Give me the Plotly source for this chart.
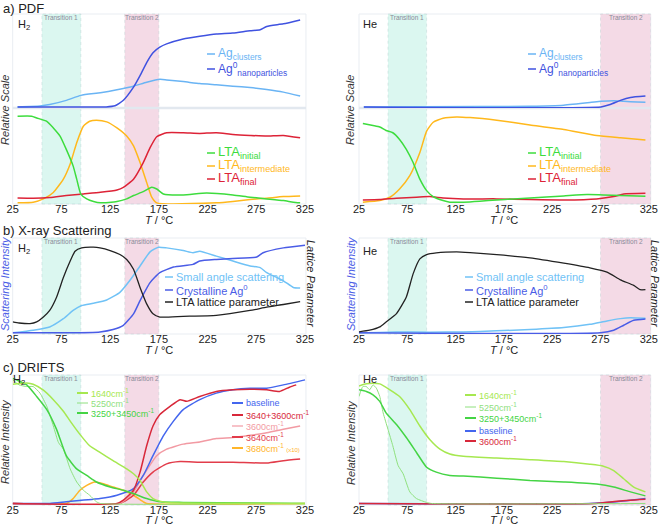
import plotly.graph_objects as go

W, H = 661, 525
FONT = "Liberation Sans, Arial, sans-serif"

# ---------------- tick labels / bands ----------------
tick_vals = [25, 75, 125, 175, 225, 275, 325]
tick_text = ["25", "75", "125", "175", "225", "275", "325"]
trans1_h2 = [55, 95]
trans2_h2 = [140, 175]
trans1_he = [55, 95]
trans2_he = [275, 327]

# ---------------- a) PDF, H2 ----------------
pdf_h2_agcl_x = [30, 53, 63, 80, 95, 115, 132, 149, 162.5, 176, 183, 200, 217, 234, 251, 268.6, 285.7, 302.8, 320]
pdf_h2_agcl_y = [0, 0.01, 0.025, 0.07, 0.124, 0.152, 0.184, 0.223, 0.265, 0.297, 0.29, 0.272, 0.251, 0.237, 0.223, 0.208, 0.187, 0.159, 0.117]
pdf_h2_ag0_x = [30, 121, 130, 138.6, 149, 155.7, 162.5, 169, 176, 183, 200, 217, 234, 251, 268.6, 279, 285.7, 302.8, 320]
pdf_h2_ag0_y = [0, 0, 0.012, 0.071, 0.212, 0.336, 0.477, 0.583, 0.643, 0.678, 0.731, 0.760, 0.784, 0.795, 0.820, 0.830, 0.866, 0.894, 0.936]
pdf_h2_init_x = [30, 44.5, 49.6, 60, 66.7, 73.6, 80, 87, 90.7, 95, 101, 108, 115, 132, 142, 149, 159, 167.7, 172.8, 179.6, 200, 224, 251, 268.6, 285.7, 302.8, 313, 320]
pdf_h2_init_y = [0.913, 0.913, 0.895, 0.86, 0.79, 0.704, 0.564, 0.39, 0.25, 0.09, 0.042, 0.014, 0.0, 0.014, 0.042, 0.077, 0.118, 0.164, 0.146, 0.094, 0.084, 0.105, 0.084, 0.06, 0.042, 0.024, 0.007, 0.0]
pdf_h2_inter_x = [30, 46, 56.5, 66.7, 77, 84, 90.7, 97.5, 104, 111, 121.5, 132, 142, 149, 155.7, 162.5, 167.7, 172.8, 234, 251, 268.6, 285.7, 302.8, 320]
pdf_h2_inter_y = [0, 0.007, 0.042, 0.11, 0.25, 0.41, 0.634, 0.808, 0.86, 0.871, 0.854, 0.79, 0.704, 0.6, 0.425, 0.216, 0.06, 0, 0, 0.014, 0.035, 0.049, 0.066, 0.073]
pdf_h2_final_x = [30, 46, 63, 80, 97.5, 115, 132, 138.6, 149, 159, 166, 172.8, 183, 200, 217, 234, 251, 268.6, 285.7, 302.8, 320]
pdf_h2_final_y = [0.052, 0.049, 0.056, 0.077, 0.094, 0.111, 0.136, 0.164, 0.25, 0.425, 0.582, 0.697, 0.739, 0.739, 0.732, 0.739, 0.721, 0.711, 0.704, 0.711, 0.686]

# ---------------- a) PDF, He ----------------
pdf_he_agcl_x = [30, 150, 202, 236.8, 264, 275.5, 288.7, 299, 313, 321.5]
pdf_he_agcl_y = [0, 0.003, 0.007, 0.018, 0.046, 0.06, 0.067, 0.06, 0.053, 0.049]
pdf_he_ag0_x = [30, 275.5, 285, 295.6, 306, 321.5]
pdf_he_ag0_y = [0, 0, 0.025, 0.07, 0.102, 0.117]
pdf_he_init_x = [29, 39.5, 46.5, 53, 60, 67, 74, 81, 88, 95, 101.8, 112, 119, 133, 150, 167.6, 185, 202, 219, 237, 261, 278, 295.6, 321.5]
pdf_he_init_y = [0.836, 0.815, 0.8, 0.763, 0.739, 0.669, 0.564, 0.425, 0.25, 0.129, 0.066, 0.024, 0.007, 0.007, 0.017, 0.031, 0.042, 0.052, 0.063, 0.073, 0.087, 0.084, 0.077, 0.07]
pdf_he_inter_x = [29, 46.5, 57, 67, 77.6, 88, 95, 101.8, 112, 126, 140, 167.6, 202, 237, 271, 295.6, 321.5]
pdf_he_inter_y = [0.007, 0.024, 0.059, 0.146, 0.286, 0.53, 0.756, 0.85, 0.892, 0.906, 0.899, 0.871, 0.822, 0.774, 0.711, 0.686, 0.662]
pdf_he_final_x = [29, 46.5, 63.7, 84.5, 98, 112, 133, 167.6, 202, 237, 271, 288.7, 299, 321.5]
pdf_he_final_y = [0.031, 0.035, 0.049, 0.059, 0.066, 0.052, 0.042, 0.042, 0.035, 0.031, 0.042, 0.066, 0.094, 0.101]

# ---------------- b) X-ray scattering, H2 ----------------
xr_h2_lat_x = [25, 31.5, 42.8, 49.6, 56.5, 63, 70, 77, 84, 89, 95.8, 107.8, 114.6, 125, 135, 142, 149, 155.7, 162.5, 169, 176, 200, 234, 268.6, 285.7, 302.8, 320]
xr_h2_lat_y = [0.115, 0.104, 0.097, 0.115, 0.167, 0.236, 0.375, 0.583, 0.757, 0.861, 0.896, 0.903, 0.896, 0.868, 0.826, 0.774, 0.67, 0.479, 0.306, 0.201, 0.167, 0.174, 0.184, 0.236, 0.271, 0.299, 0.33]
xr_h2_saxs_x = [25, 46, 63, 77, 87, 95.8, 107.8, 121.5, 135, 145, 155.7, 166, 174.5, 183, 200, 210, 217, 234, 251, 268.6, 279, 285.7, 302.8, 313, 320]
xr_h2_saxs_y = [0, 0.028, 0.0625, 0.149, 0.236, 0.288, 0.3125, 0.347, 0.427, 0.549, 0.705, 0.854, 0.903, 0.896, 0.868, 0.844, 0.861, 0.809, 0.757, 0.705, 0.6875, 0.635, 0.549, 0.479, 0.472]
xr_h2_cry_x = [25, 80, 114.6, 128, 138.6, 149, 155.7, 166, 176, 190, 210, 217, 234, 251, 275.5, 282, 302.8, 325]
xr_h2_cry_y = [0, 0, 0.01, 0.035, 0.08, 0.2, 0.34, 0.53, 0.635, 0.694, 0.722, 0.757, 0.774, 0.785, 0.8, 0.844, 0.896, 0.924]

# ---------------- b) X-ray scattering, He ----------------
xr_he_lat_x = [25, 36, 46.5, 53, 63.8, 74, 81, 88, 95, 105, 126, 140, 167.6, 202, 237, 264, 281.7, 295.6, 309.4, 316, 321.5]
xr_he_lat_y = [0.01, 0.028, 0.063, 0.115, 0.203, 0.378, 0.622, 0.78, 0.825, 0.843, 0.853, 0.846, 0.825, 0.79, 0.734, 0.685, 0.64, 0.559, 0.5, 0.455, 0.455]
xr_he_saxs_x = [25, 63.8, 98, 133, 167.6, 202, 237, 264, 281.7, 295.6, 306, 321.5]
xr_he_saxs_y = [0, 0.01, 0.007, 0.01, 0.021, 0.035, 0.056, 0.09, 0.126, 0.15, 0.16, 0.154]
xr_he_cry_x = [25, 275, 288.7, 299, 309.4, 321.5]
xr_he_cry_y = [0, 0, 0.028, 0.08, 0.132, 0.146]

# ---------------- c) DRIFTS, H2 ----------------
dr_h2_1640_x = [25, 31.5, 39.4, 46, 56.5, 66.7, 77, 84, 94, 104, 114.6, 128, 142, 149, 155.7, 162.5, 169, 176, 183, 325]
dr_h2_1640_y = [0.928, 0.933, 0.938, 0.928, 0.882, 0.808, 0.718, 0.641, 0.538, 0.449, 0.397, 0.333, 0.269, 0.231, 0.179, 0.09, 0.038, 0.018, 0.008, 0.0]
dr_h2_5250_x = [25, 31.5, 39.4, 46, 53, 60, 66.7, 72, 77, 84, 90.7, 97.5, 104, 111, 115, 325]
dr_h2_5250_y = [0.962, 0.923, 0.91, 0.91, 0.859, 0.756, 0.603, 0.474, 0.423, 0.269, 0.167, 0.103, 0.064, 0.013, 0.0, 0.0]
dr_h2_3250_x = [25, 29, 39.4, 49.6, 60, 70, 80, 90.7, 101, 111, 125, 138.6, 149, 162.5, 176, 200, 325]
dr_h2_3250_y = [0.974, 0.962, 0.923, 0.833, 0.731, 0.577, 0.372, 0.269, 0.218, 0.167, 0.128, 0.103, 0.077, 0.038, 0.013, 0.008, 0.0]
dr_h2_base_x = [25, 63, 80, 114.6, 132, 149, 159, 169, 179.6, 190, 200, 217, 234, 251, 268.6, 285.7, 302.8, 325]
dr_h2_base_y = [0, 0, 0.013, 0.038, 0.064, 0.115, 0.218, 0.372, 0.526, 0.641, 0.731, 0.808, 0.859, 0.885, 0.897, 0.897, 0.923, 0.962]
dr_h2_3640p_x = [25, 132, 138.6, 149, 155.7, 162.5, 169, 176, 186.5, 196.7, 203.6, 217, 234, 251, 268.6, 285.7, 299, 309, 316]
dr_h2_3640p_y = [0, 0, 0.026, 0.103, 0.244, 0.449, 0.603, 0.692, 0.756, 0.808, 0.795, 0.833, 0.872, 0.885, 0.89, 0.885, 0.872, 0.905, 0.923]
dr_h2_3600_x = [25, 135, 149, 159, 172.8, 183, 200, 217, 234, 251, 268.6, 285.7, 302.8, 320]
dr_h2_3600_y = [0, 0, 0.09, 0.218, 0.372, 0.423, 0.462, 0.479, 0.505, 0.513, 0.531, 0.551, 0.577, 0.603]
dr_h2_3640_x = [25, 135, 149, 159, 169, 183, 196.7, 217, 251, 285.7, 302.8, 320]
dr_h2_3640_y = [0, 0, 0.064, 0.167, 0.244, 0.308, 0.326, 0.321, 0.321, 0.315, 0.333, 0.346]
dr_h2_3680_x = [25, 80, 87, 94, 101, 109.5, 118, 128, 138.6, 149, 159, 162.5, 325]
dr_h2_3680_y = [0, 0, 0.038, 0.103, 0.141, 0.167, 0.154, 0.128, 0.103, 0.064, 0.013, 0, 0]

# ---------------- c) DRIFTS, He ----------------
dr_he_1640_x = [25, 32.6, 39.5, 46.5, 57, 67, 77.6, 88, 98, 108.8, 119, 133, 167.6, 202, 237, 264, 278, 288.7, 299, 309.4, 321.5]
dr_he_1640_y = [0.915, 0.931, 0.936, 0.931, 0.885, 0.833, 0.731, 0.603, 0.5, 0.423, 0.385, 0.367, 0.354, 0.341, 0.326, 0.305, 0.29, 0.256, 0.192, 0.128, 0.09]
dr_he_5250_x = [25, 29, 32.6, 36, 39.5, 43, 46.5, 50, 55, 60, 65.5, 70.7, 77.6, 84.5, 95, 100, 321.5]
dr_he_5250_y = [0.833, 0.91, 0.91, 0.885, 0.923, 0.897, 0.833, 0.705, 0.577, 0.449, 0.295, 0.231, 0.09, 0.038, 0.008, 0, 0]
dr_he_3250_x = [25, 32.6, 39.5, 46.5, 53, 63.8, 74, 84.5, 95, 105, 119, 133, 167.6, 202, 237, 271, 288.7, 306, 321.5]
dr_he_3250_y = [0.885, 0.872, 0.846, 0.795, 0.705, 0.615, 0.513, 0.397, 0.282, 0.244, 0.218, 0.213, 0.197, 0.179, 0.167, 0.151, 0.128, 0.09, 0.059]
dr_he_base_x = [25, 264, 292, 321.5]
dr_he_base_y = [0, 0, 0.013, 0.038]
dr_he_3600_x = [25, 270, 292, 321.5]
dr_he_3600_y = [0, 0, 0.018, 0.033]

# ---------------- colours ----------------
C_AGCL = "#6ab4f4"
C_AG0 = "#3f52e0"
C_INIT = "#3ddc3d"
C_INTER = "#ffb81c"
C_FINAL = "#dd2337"
C_SAXS = "#70c2f6"
C_CRY = "#4a5ce6"
C_LAT = "#222222"
C_1640 = "#a6e850"
C_5250 = "#8fe07e"
C_3250 = "#44d444"
C_BASE = "#4466ee"
C_3640P = "#d8283a"
C_3600 = "#f29aa3"
C_3640 = "#e23c4a"
C_3680 = "#ffb52a"

fig = go.Figure()


def add(xs, ys, color, xa, ya, width=1.5):
    fig.add_trace(go.Scatter(x=xs, y=ys, mode="lines", xaxis=xa, yaxis=ya,
                             line=dict(color=color, width=width, shape="spline", smoothing=0.5),
                             showlegend=False, hoverinfo="skip"))


# PDF H2
add(pdf_h2_agcl_x, pdf_h2_agcl_y, C_AGCL, "x", "y2")
add(pdf_h2_ag0_x, pdf_h2_ag0_y, C_AG0, "x", "y2")
add(pdf_h2_inter_x, pdf_h2_inter_y, C_INTER, "x", "y")
add(pdf_h2_final_x, pdf_h2_final_y, C_FINAL, "x", "y")
add(pdf_h2_init_x, pdf_h2_init_y, C_INIT, "x", "y")
# PDF He
add(pdf_he_agcl_x, pdf_he_agcl_y, C_AGCL, "x2", "y4")
add(pdf_he_ag0_x, pdf_he_ag0_y, C_AG0, "x2", "y4")
add(pdf_he_inter_x, pdf_he_inter_y, C_INTER, "x2", "y3")
add(pdf_he_final_x, pdf_he_final_y, C_FINAL, "x2", "y3")
add(pdf_he_init_x, pdf_he_init_y, C_INIT, "x2", "y3")
# X-ray H2
add(xr_h2_saxs_x, xr_h2_saxs_y, C_SAXS, "x3", "y5")
add(xr_h2_cry_x, xr_h2_cry_y, C_CRY, "x3", "y5")
add(xr_h2_lat_x, xr_h2_lat_y, C_LAT, "x3", "y5", 1.3)
# X-ray He
add(xr_he_saxs_x, xr_he_saxs_y, C_SAXS, "x4", "y6")
add(xr_he_cry_x, xr_he_cry_y, C_CRY, "x4", "y6")
add(xr_he_lat_x, xr_he_lat_y, C_LAT, "x4", "y6", 1.3)
# DRIFTS H2
add(dr_h2_3680_x, dr_h2_3680_y, C_3680, "x5", "y7")
add(dr_h2_3640_x, dr_h2_3640_y, C_3640, "x5", "y7")
add(dr_h2_3600_x, dr_h2_3600_y, C_3600, "x5", "y7")
add(dr_h2_base_x, dr_h2_base_y, C_BASE, "x5", "y7")
add(dr_h2_3640p_x, dr_h2_3640p_y, C_3640P, "x5", "y7")
add(dr_h2_5250_x, dr_h2_5250_y, C_5250, "x5", "y7", 1.0)
add(dr_h2_3250_x, dr_h2_3250_y, C_3250, "x5", "y7")
add(dr_h2_1640_x, dr_h2_1640_y, C_1640, "x5", "y7")
# DRIFTS He
add(dr_he_base_x, dr_he_base_y, C_BASE, "x6", "y8")
add(dr_he_3600_x, dr_he_3600_y, C_3640P, "x6", "y8")
add(dr_he_5250_x, dr_he_5250_y, C_5250, "x6", "y8", 1.0)
add(dr_he_3250_x, dr_he_3250_y, C_3250, "x6", "y8")
add(dr_he_1640_x, dr_he_1640_y, C_1640, "x6", "y8")

# ---------------- layout geometry (pixels) ----------------
LX = (12.7, 305.0)     # left panels: px of x=25 and x=325
RX = (359.0, 648.8)    # right panels
def dom_x(px, rng):
    a, b = px
    scale = (b - a) / 300.0
    return [(a + (rng[0] - 25) * scale) / W, (a + (rng[1] - 25) * scale) / W]

def py(v):
    return 1 - v / H

rowA = (14, 108, 204)
rowB = (238, 334)
rowC = (375, 505)

L_RANGE = [25, 326]
R_RANGE = [25, 327]
ldom = dom_x(LX, L_RANGE)
rdom = dom_x(RX, R_RANGE)

xcommon = dict(showgrid=False, zeroline=False, showline=False, ticks="", ticklen=0,
               automargin=False, ticklabelstandoff=-3,
               tickvals=tick_vals, ticktext=tick_text,
               tickfont=dict(family=FONT, size=11, color="#222222"))
ycommon = dict(showgrid=False, zeroline=False, showline=False, showticklabels=False,
               automargin=False, ticks="", range=[-0.012, 1.0])

layout = dict(
    width=W, height=H, margin=dict(l=0, r=0, t=0, b=0, pad=0, autoexpand=False),
    paper_bgcolor="white", plot_bgcolor="white", showlegend=False,
    font=dict(family=FONT),
    xaxis=dict(xcommon, domain=ldom, range=L_RANGE, anchor="y"),
    xaxis2=dict(xcommon, domain=rdom, range=R_RANGE, anchor="y3"),
    xaxis3=dict(xcommon, domain=ldom, range=L_RANGE, anchor="y5"),
    xaxis4=dict(xcommon, domain=rdom, range=R_RANGE, anchor="y6"),
    xaxis5=dict(xcommon, domain=ldom, range=L_RANGE, anchor="y7"),
    xaxis6=dict(xcommon, domain=rdom, range=R_RANGE, anchor="y8"),
    yaxis=dict(ycommon, domain=[py(rowA[2]), py(rowA[1])], anchor="x"),
    yaxis2=dict(ycommon, domain=[py(rowA[1]), py(rowA[0])], anchor="x"),
    yaxis3=dict(ycommon, domain=[py(rowA[2]), py(rowA[1])], anchor="x2"),
    yaxis4=dict(ycommon, domain=[py(rowA[1]), py(rowA[0])], anchor="x2"),
    yaxis5=dict(ycommon, domain=[py(rowB[1]), py(rowB[0])], anchor="x3"),
    yaxis6=dict(ycommon, domain=[py(rowB[1]), py(rowB[0])], anchor="x4"),
    yaxis7=dict(ycommon, domain=[py(rowC[1]), py(rowC[0])], anchor="x5"),
    yaxis8=dict(ycommon, domain=[py(rowC[1]), py(rowC[0])], anchor="x6"),
)
fig.update_layout(**layout)

shapes = []
annots = []

BAND1 = "rgba(200,243,232,0.65)"
BAND2 = "rgba(240,205,222,0.75)"

def band(xref, rng, top, bottom, color):
    shapes.append(dict(type="rect", xref=xref, yref="paper", x0=rng[0], x1=rng[1],
                       y0=py(bottom), y1=py(top), fillcolor=color, layer="below",
                       line=dict(width=0.6, color="rgba(170,200,200,0.6)", dash="dot")))

def tlabel(xref, rng, ypx, text):
    annots.append(dict(x=(rng[0] + rng[1]) / 2, xref=xref, y=py(ypx), yref="paper",
                       text=text, showarrow=False, font=dict(size=6.5, color="#8a8a98", family=FONT),
                       xanchor="center", yanchor="middle"))

def frame(xdom, top, bottom):
    shapes.append(dict(type="rect", xref="paper", yref="paper", x0=xdom[0], x1=xdom[1],
                       y0=py(bottom), y1=py(top), line=dict(width=1, color="#e9edf2"), layer="below"))

for (xr, t1, t2, xd) in [("x", trans1_h2, trans2_h2, ldom), ("x2", trans1_he, trans2_he, rdom)]:
    frame(xd, rowA[0], rowA[2])
    band(xr, t1, rowA[0], rowA[2], BAND1)
    band(xr, t2, rowA[0], rowA[2], BAND2)
    tlabel(xr, t1, 18, "Transition 1")
    tlabel(xr, t2, 18, "Transition 2")
    shapes.append(dict(type="line", xref="paper", yref="paper", x0=xd[0], x1=xd[1],
                       y0=py(rowA[1]), y1=py(rowA[1]), line=dict(width=2.5, color="#e2e8ef"), layer="below"))
for (xr, t1, t2, xd) in [("x3", trans1_h2, trans2_h2, ldom), ("x4", trans1_he, trans2_he, rdom)]:
    frame(xd, rowB[0], rowB[1])
    band(xr, t1, rowB[0], rowB[1], BAND1)
    band(xr, t2, rowB[0], rowB[1], BAND2)
    tlabel(xr, t1, 241, "Transition 1")
    tlabel(xr, t2, 241, "Transition 2")
for (xr, t1, t2, xd) in [("x5", trans1_h2, trans2_h2, ldom), ("x6", trans1_he, trans2_he, rdom)]:
    frame(xd, rowC[0], rowC[1])
    band(xr, t1, rowC[0], rowC[1], BAND1)
    band(xr, t2, rowC[0], rowC[1], BAND2)
    tlabel(xr, t1, 378, "Transition 1")
    tlabel(xr, t2, 378, "Transition 2")


def text(xpx, ypx, t, size=11, color="#222222", angle=0, xanchor="left", italic=False):
    if italic:
        t = "<i>" + t + "</i>"
    annots.append(dict(x=xpx / W, y=py(ypx), xref="paper", yref="paper", text=t, showarrow=False,
                       textangle=angle, xanchor=xanchor, yanchor="middle",
                       font=dict(size=size, color=color, family=FONT)))


def leg(xpx, ypx, color, label, size, seg=8, lw=1.5):
    shapes.append(dict(type="line", xref="paper", yref="paper", x0=xpx / W, x1=(xpx + seg) / W,
                       y0=py(ypx), y1=py(ypx), line=dict(color=color, width=lw)))
    text(xpx + seg + 1, ypx, label, size=size, color=color)

# section titles
text(1, 8, "a) PDF", size=13)
text(1, 231, "b) X-ray Scattering", size=13)
text(1, 367, "c) DRIFTS", size=13)

# gas labels
text(16, 25, "H<sub>2</sub>", size=11)
text(361, 24, "He", size=11)
text(16, 249, "H<sub>2</sub>", size=11)
text(361, 251, "He", size=11)
text(11, 380, "H<sub>2</sub>", size=11)
text(361, 379, "He", size=11)

# x axis titles
for cx in [(LX[0] + LX[1]) / 2, (RX[0] + RX[1]) / 2]:
    text(cx, 220, "<i>T</i> / °C", size=11, xanchor="center")
    text(cx, 350, "<i>T</i> / °C", size=11, xanchor="center")
    text(cx, 520, "<i>T</i> / °C", size=11, xanchor="center")

# y axis titles
text(5, 110, "Relative Scale", size=11, color="#333333", angle=-90, xanchor="center", italic=True)
text(350, 110, "Relative Scale", size=11, color="#333333", angle=-90, xanchor="center", italic=True)
text(5, 284, "Scattering Intensity", size=11, color="#4a5ce6", angle=-90, xanchor="center", italic=True)
text(351, 284, "Scattering Intensity", size=11, color="#4a5ce6", angle=-90, xanchor="center", italic=True)
text(311, 284, "Lattice Parameter", size=11, color="#222222", angle=90, xanchor="center", italic=True)
text(655, 284, "Lattice Parameter", size=11, color="#222222", angle=90, xanchor="center", italic=True)
text(5, 442, "Relative Intensity", size=11, color="#333333", angle=-90, xanchor="center", italic=True)
text(351, 443, "Relative Intensity", size=11, color="#333333", angle=-90, xanchor="center", italic=True)

# PDF legends
for x0 in [207, 528]:
    leg(x0, 54, C_AGCL, "Ag<sub>clusters</sub>", 12)
    leg(x0, 69, C_AG0, "Ag<sup>0</sup><sub>nanoparticles</sub>", 12)
    leg(x0, 153, C_INIT, "LTA<sub>initial</sub>", 13)
    leg(x0, 166, C_INTER, "LTA<sub>intermediate</sub>", 13)
    leg(x0, 179, C_FINAL, "LTA<sub>final</sub>", 13)

# X-ray legends
for x0 in [165, 465]:
    leg(x0, 277, C_SAXS, "Small angle scattering", 11)
    leg(x0, 290, C_CRY, "Crystalline Ag<sup>0</sup>", 11)
    leg(x0, 302, C_LAT, "LTA lattice parameter", 11)

# DRIFTS legends
leg(77, 393, C_1640, "1640cm<sup>-1</sup>", 9, seg=11, lw=2)
leg(77, 403, C_5250, "5250cm<sup>-1</sup>", 9, seg=11, lw=1)
leg(77, 413, C_3250, "3250+3450cm<sup>-1</sup>", 9, seg=11, lw=2)
leg(232, 403, C_BASE, "baseline", 9, seg=11, lw=2)
leg(232, 415, C_3640P, "3640+3600cm<sup>-1</sup>", 9, seg=11, lw=2)
leg(232, 426, C_3600, "3600cm<sup>-1</sup>", 9, seg=11, lw=1.2)
leg(232, 437, C_3640, "3640cm<sup>-1</sup>", 9, seg=11, lw=2)
leg(232, 448, C_3680, "3680cm<sup>-1</sup> <span style='font-size:6px'>(x10)</span>", 9, seg=11, lw=2)

leg(465, 395, C_1640, "1640cm<sup>-1</sup>", 9, seg=11, lw=2)
leg(465, 407, C_5250, "5250cm<sup>-1</sup>", 9, seg=11, lw=1)
leg(465, 418, C_3250, "3250+3450cm<sup>-1</sup>", 9, seg=11, lw=2)
leg(465, 431, C_BASE, "baseline", 9, seg=11, lw=2)
leg(465, 441, C_3640P, "3600cm<sup>-1</sup>", 9, seg=11, lw=2)

fig.update_layout(shapes=shapes, annotations=annots)
fig.write_html("out.html", config={"displayModeBar": False},
               post_script="document.body.style.margin='0';document.body.style.overflow='hidden';")
